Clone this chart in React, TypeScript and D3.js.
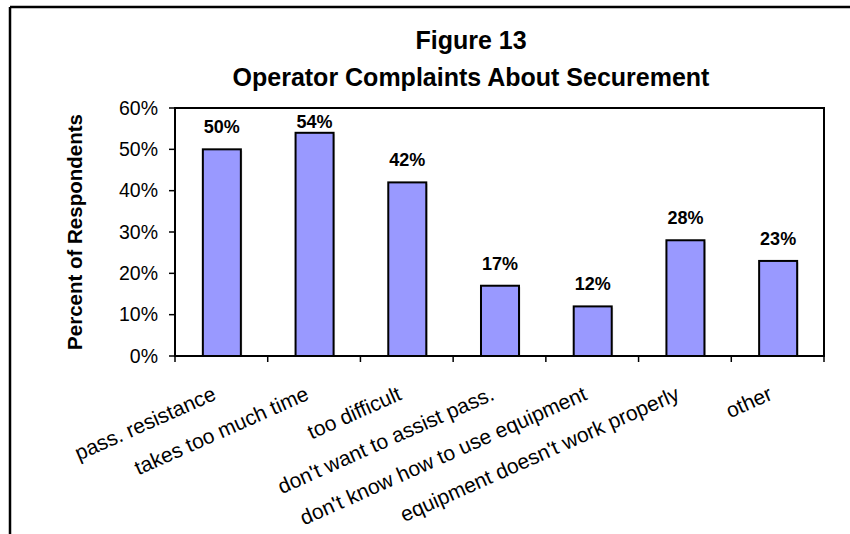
import React from "react";
import * as d3 from "d3";

const categories = [
  "pass. resistance",
  "takes too much time",
  "too difficult",
  "don't want to assist pass.",
  "don't know how to use equipment",
  "equipment doesn't work properly",
  "other",
];
const values = [50, 54, 42, 17, 12, 28, 23];
const yTicks = [0, 10, 20, 30, 40, 50, 60];
const titleLines = ["Figure 13", "Operator Complaints About Securement"];
const yTitle = "Percent of Respondents";

const W = 850;
const H = 534;
const plot = { left: 175, right: 824, top: 108, bottom: 356 };
const FONT = "'Liberation Sans', Arial, Helvetica, sans-serif";

export default function App() {
  const x = d3
    .scaleBand<string>()
    .domain(categories)
    .range([plot.left, plot.right])
    .padding(0);
  const y = d3.scaleLinear().domain([0, 60]).range([plot.bottom, plot.top]);
  const step = x.step();
  const barW = step * 0.41;
  const boundaries = d3.range(categories.length + 1).map((i) => plot.left + i * step);

  return (
    <svg
      width={W}
      height={H}
      style={{ position: "absolute", left: 0, top: 0, background: "#fff" }}
      fontFamily={FONT}
    >
      <rect x={0} y={0} width={W} height={H} fill="#fff" />
      {/* outer frame */}
      <line x1={10} y1={7} x2={W} y2={7} stroke="#000" strokeWidth={2.5} />
      <line x1={10} y1={7} x2={10} y2={H} stroke="#000" strokeWidth={2.5} />

      {/* title */}
      <text x={471} y={49} textAnchor="middle" fontWeight="bold" fontSize={25}>
        {titleLines[0]}
      </text>
      <text x={471} y={86} textAnchor="middle" fontWeight="bold" fontSize={25}>
        {titleLines[1]}
      </text>

      {/* y title */}
      <text
        transform={`translate(82, ${(plot.top + plot.bottom) / 2}) rotate(-90)`}
        textAnchor="middle"
        fontWeight="bold"
        fontSize={20.5}
      >
        {yTitle}
      </text>

      {/* bars */}
      {categories.map((c, i) => {
        const cx = (x(c) as number) + step / 2 + 0.5;
        return (
          <g key={c}>
            <rect
              x={cx - barW / 2 + 1.5}
              y={y(values[i]) + 1.5}
              width={barW}
              height={plot.bottom - y(values[i]) - 1.5}
              fill="#bdbdbd"
              opacity={0.5}
            />
            <rect
              x={cx - barW / 2}
              y={y(values[i])}
              width={barW}
              height={plot.bottom - y(values[i])}
              fill="#9999FF"
              stroke="#000"
              strokeWidth={2}
            />
          </g>
        );
      })}

      {/* plot frame */}
      <rect
        x={plot.left}
        y={plot.top}
        width={plot.right - plot.left}
        height={plot.bottom - plot.top}
        fill="none"
        stroke="#000"
        strokeWidth={2}
      />

      {/* y ticks */}
      {yTicks.map((t) => (
        <g key={t}>
          <line x1={169} x2={plot.left} y1={y(t)} y2={y(t)} stroke="#000" strokeWidth={1.5} />
          <text x={158} y={y(t)} dy="0.35em" textAnchor="end" fontSize={19.5}>
            {t}%
          </text>
        </g>
      ))}

      {/* x ticks */}
      {boundaries.map((bx, i) => (
        <line key={i} x1={bx} x2={bx} y1={plot.bottom} y2={plot.bottom + 6} stroke="#000" strokeWidth={1.5} />
      ))}

      {/* value labels */}
      {categories.map((c, i) => {
        const cx = (x(c) as number) + step / 2 + 0.5;
        const by = Math.max(y(values[i]) - 16, plot.top + 20);
        return (
          <text key={c} x={cx} y={by} textAnchor="middle" fontWeight="bold" fontSize={18}>
            {values[i]}%
          </text>
        );
      })}

      {/* x labels */}
      {categories.map((c) => {
        const cx = (x(c) as number) + step / 2 - 4;
        return (
          <text
            key={c}
            transform={`translate(${cx}, 399) rotate(-24)`}
            textAnchor="end"
            fontSize={21}
          >
            {c}
          </text>
        );
      })}
    </svg>
  );
}
